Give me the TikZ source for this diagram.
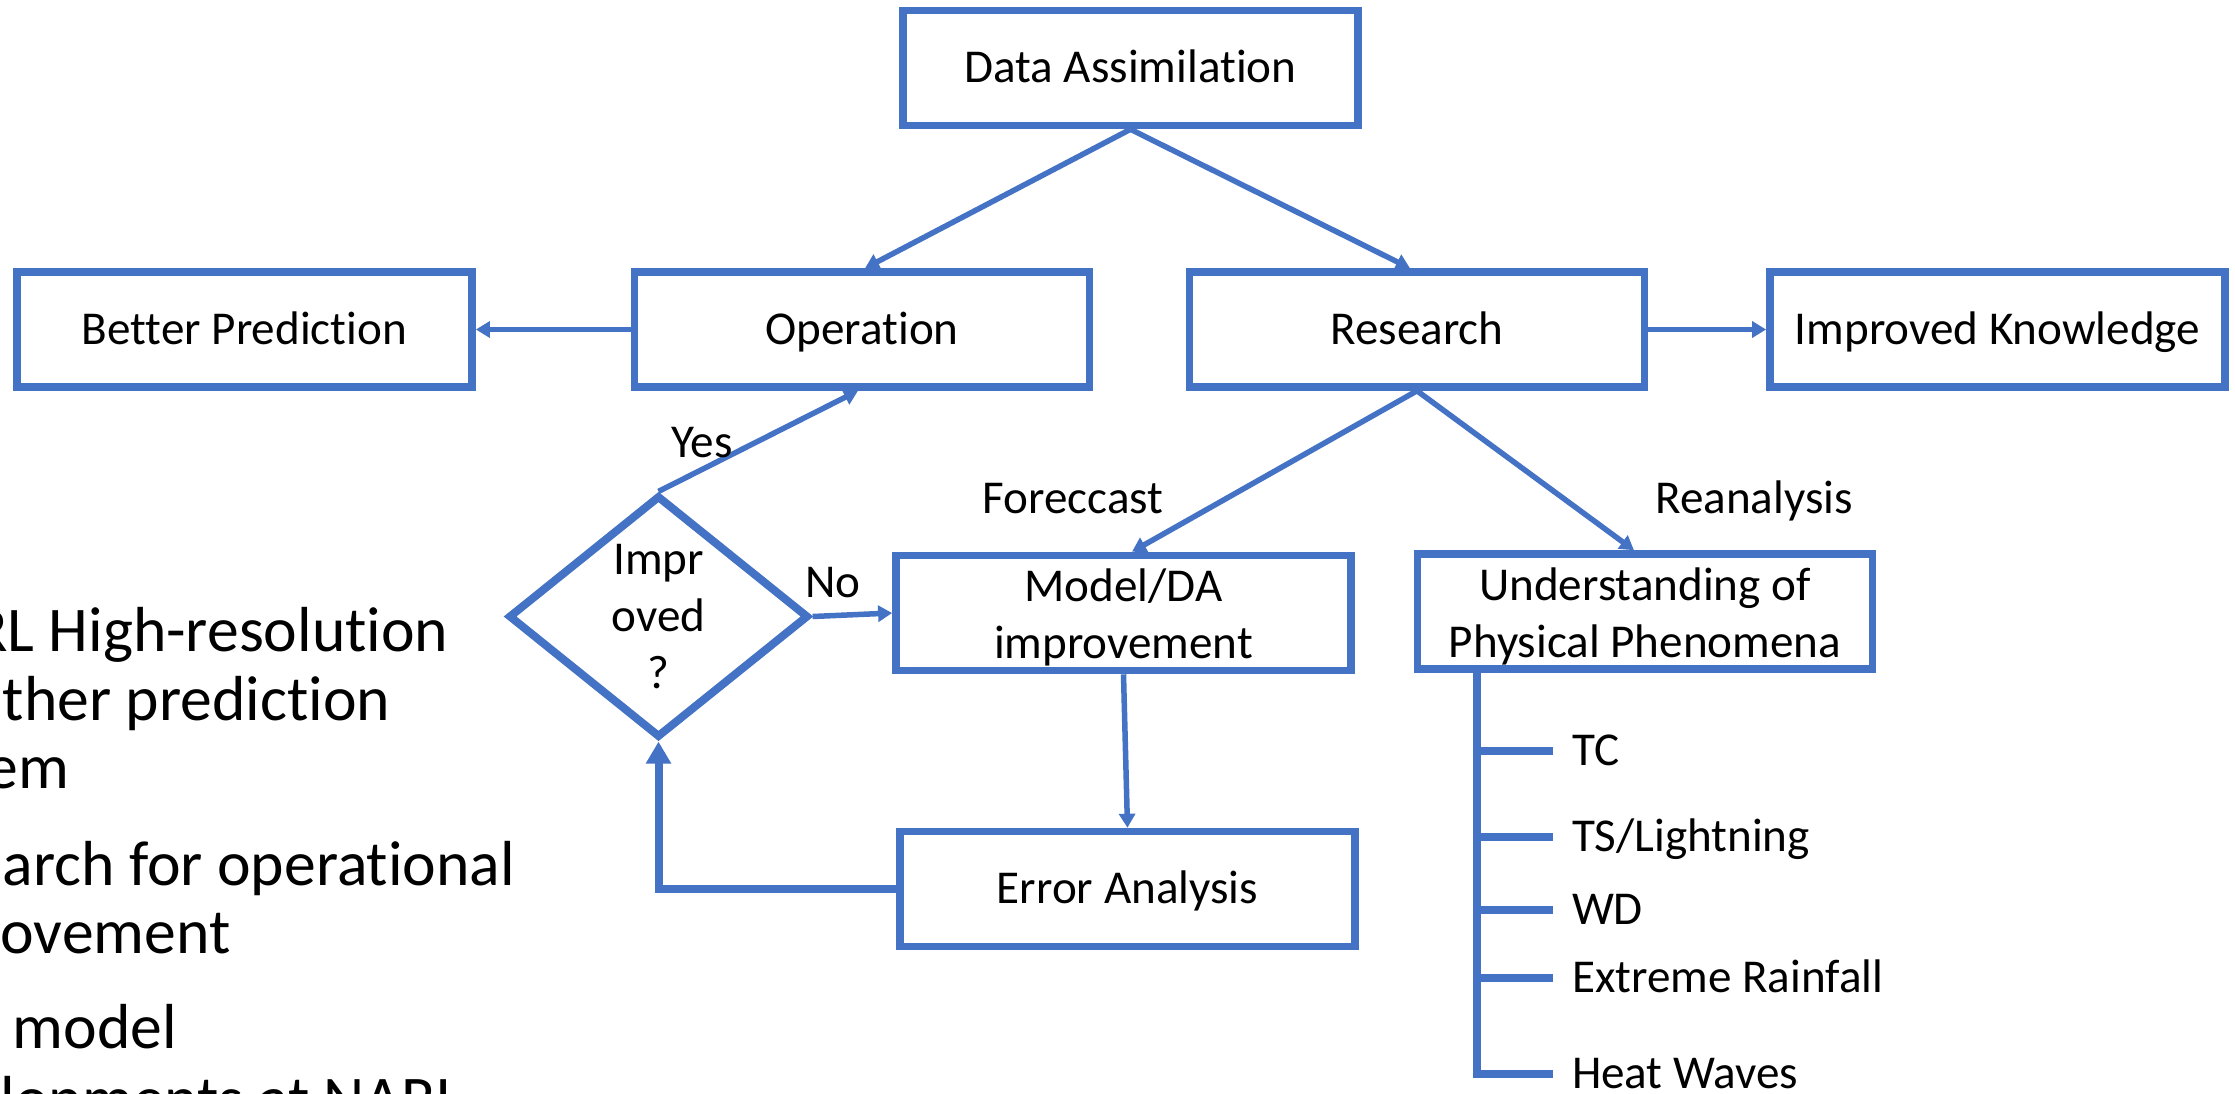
\documentclass[tikz,border=0pt]{standalone}
\usepackage{fontspec}
\setmainfont{Carlito}[Ligatures=NoCommon]
\usetikzlibrary{arrows.meta,shapes.geometric}
\definecolor{ofblue}{HTML}{4472C4}
\newcommand\boxfont{\fontsize{13.4pt}{16.2pt}\selectfont}
\newcommand\sidefont{\fontsize{18.1pt}{19.4pt}\selectfont}
\newcommand\topstrut{\rule{0pt}{0.42cm}}
\begin{document}
\begin{tikzpicture}[x=0.01cm,y=-0.01cm,
  boxnode/.style={draw=ofblue, line width=0.075cm, rectangle, minimum width=4.55cm,
    minimum height=1.15cm, inner sep=0, font=\boxfont},
  oneline/.style={boxnode, text height=0.29cm, text depth=0cm},
  twoline/.style={boxnode, align=center},
  link/.style={draw=ofblue, line width=0.055cm, -{Triangle[width=0.16cm,length=0.14cm]}},
  loopback/.style={draw=ofblue, line width=0.08cm, -{Triangle[width=0.24cm,length=0.22cm]}},
  branch/.style={draw=ofblue, line width=0.075cm},
  lbl/.style={font=\boxfont, inner sep=0, anchor=base},
  leaf/.style={font=\boxfont, anchor=west, inner xsep=0.19cm, inner ysep=0, outer sep=0,
    text height=0.29cm, text depth=0cm},
  side/.style={font=\sidefont, anchor=base west, inner sep=0},
]
\useasboundingbox (0,0) rectangle (2235,1093);
\clip (0,0) rectangle (2235,1093);

% bullet text on the left
\node[side] (s1) at (7,651) {\llap{R}L High-resolution};
\node[side] (s2) at (2,720) {ther prediction};
\node[side] (s3) at (-14,788) {em};
\node[side] (s4) at (2,885) {arch for operational};
\node[side] (s5) at (0,953) {ovement};
\node[side] (s6) at (12,1048) {model};
\node[side] (s7) at (0,1120) {lopments at NARL};

% boxes
\node[oneline] (da) at (1130.5,68) {Data Assimilation};
\node[oneline] (bp) at (244.5,329.5) {Better Prediction};
\node[oneline] (op) at (862,329.5) {Operation};
\node[oneline] (rs) at (1417,329.5) {Research};
\node[oneline] (ik) at (1997.5,329.5) {Improved Knowledge};
\node[twoline] (md) at (1123.5,613) {\topstrut Model/DA\\improvement};
\node[twoline] (ud) at (1645,611.5) {\topstrut Understanding of\\Physical Phenomena};
\node[oneline] (ea) at (1127.5,889) {Error Analysis};

% decision
\node[diamond, draw=ofblue, line width=0.08cm, minimum width=3cm, minimum height=2.42cm,
  inner sep=0] (dc) at (658.5,616.5) {};
\node[font=\boxfont, align=center, inner sep=0] (dctext) at (dc.center) {Impr\\oved\\?};

% connectors
\draw[link] (da.south) -- ([xshift=0.03cm]op.north);
\draw[link] (da.south) -- ([xshift=-0.07cm]rs.north);
\draw[link] (op.west) -- (bp.east);
\draw[link] (rs.east) -- (ik.west);
\draw[link] (dc.north) -- ([xshift=-0.04cm]op.south);
\draw[link] (dc.east) -- (md.west);
\draw[link] (rs.south) -- ([xshift=0.085cm]md.north);
\draw[link] (rs.south) -- ([xshift=-0.11cm]ud.north);
\draw[link] (md.south) -- (ea.north);
\draw[loopback] (ea.west) -| (dc.south);

% connector labels
\node[lbl] (yes) at (702,457) {Yes};
\node[lbl] (no) at (833,597) {No};
\node[lbl] (fc) at (1073,513) {Foreccast};
\node[lbl] (ra) at (1754,513) {Reanalysis};

% phenomena list
\coordinate (spine) at (1477,1074);
\node[leaf] (tc) at (1553,751) {TC};
\node[leaf] (ts) at (1553,837) {TS/Lightning};
\node[leaf] (wd) at (1553,910) {WD};
\node[leaf] (er) at (1553,978) {Extreme Rainfall};
\node[leaf] (hw) at (1553,1074) {Heat Waves};
\draw[branch] (ud.south -| spine) -- (spine) -- (hw.west);
\foreach \n in {tc,ts,wd,er} \draw[branch] (spine |- \n.west) -- (\n.west);
\end{tikzpicture}
\end{document}
